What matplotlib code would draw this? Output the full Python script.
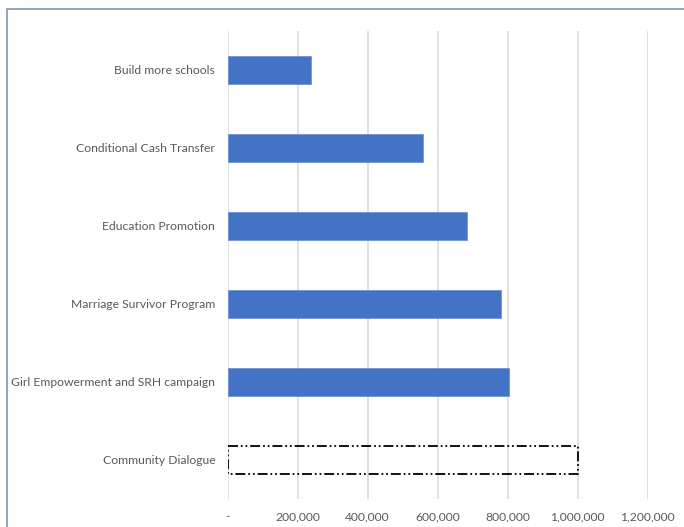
#!/usr/bin/env python3

import matplotlib as mpl
mpl.use("Agg")
import matplotlib.pyplot as plt
import matplotlib.ticker as ticker
from matplotlib.patches import Rectangle

mpl.rcParams['font.family'] = ['Lato', 'DejaVu Sans']

# top to bottom as shown
categories = ['Build more schools', 'Conditional Cash Transfer', 'Education Promotion',
              'Marriage Survivor Program', 'Girl Empowerment and SRH campaign', 'Community Dialogue']
values = [238000, 559000, 683000, 782000, 803000, 1000000]
outlined = [False, False, False, False, False, True]
xticks = [0, 200000, 400000, 600000, 800000, 1000000, 1200000]


def fmt(value, pos):
    if value == 0:
        return '-'
    return '{:,.0f}'.format(value)


fig = plt.figure(figsize=(6.84, 5.27), dpi=100)
ax = fig.add_axes([227.7 / 684, 1 - 499 / 527, (647.7 - 227.7) / 684, (499 - 31) / 527])

ypos = list(range(len(categories)))
for i in ypos:
    if outlined[i]:
        ax.barh(i, values[i], height=0.35, facecolor='none', edgecolor='black', lw=1.3,
                linestyle=(0, (5.5, 1.6, 1, 1.6, 1, 1.6)), zorder=3)
    else:
        ax.barh(i, values[i], height=0.35, color='#4472C4', edgecolor='#6F93D6', lw=0.6, zorder=3)

ax.set_xlim(0, 1200000)
ax.set_ylim(len(categories) - 0.5, -0.5)
ax.set_xticks(xticks)
ax.xaxis.set_major_formatter(ticker.FuncFormatter(fmt))
ax.set_yticks(ypos)
ax.set_yticklabels(categories)
ax.grid(axis='x', color='#D9D9D9', lw=1.1, zorder=0)
for s in ax.spines.values():
    s.set_visible(False)
ax.tick_params(axis='both', length=0, labelsize=8.7, colors='#595959')
ax.tick_params(axis='y', pad=9)
ax.tick_params(axis='x', pad=9)

# outer chart frame (runs off the right and bottom edge)
fig.patches.append(Rectangle((6.5 / 684, -0.05), 1.1, 1 - 9 / 527 + 0.05, transform=fig.transFigure,
                             fill=False, edgecolor='#8497A8', lw=1.2))

fig.savefig('out.png', dpi=100)
